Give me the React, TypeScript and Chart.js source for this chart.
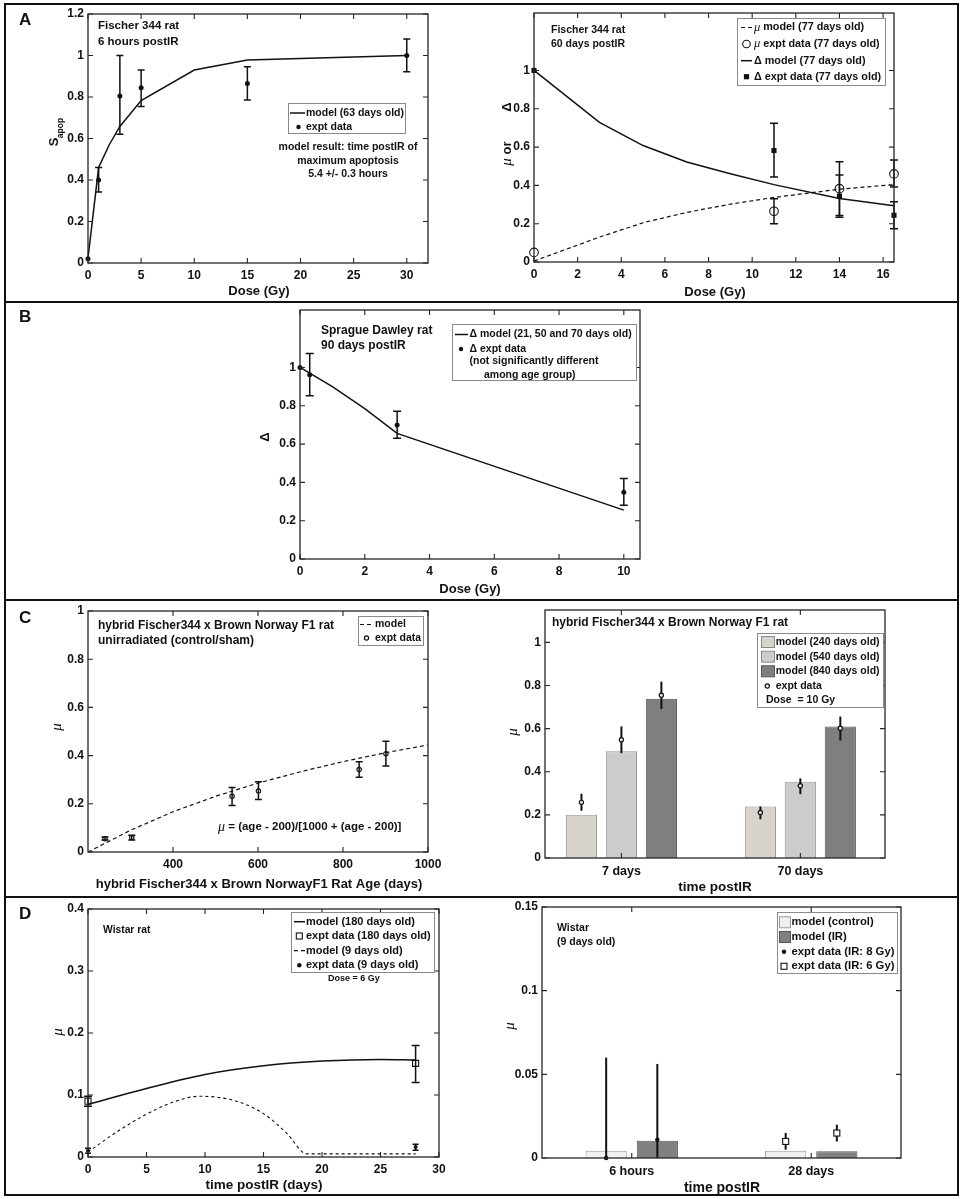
import React, { useEffect, useRef } from 'react';
import { Chart, registerables } from 'chart.js';

Chart.register(...registerables);

/* ======================= DATA ======================= */
// Panel A (left): Fischer 344 rat, 6 hours postIR
const aLeftModelDose = [0, 1, 2, 3, 5, 10, 15, 30];
const aLeftModelSapop = [0.024, 0.46, 0.57, 0.658, 0.783, 0.93, 0.978, 1.0];
const aLeftExptDose = [0, 1, 3, 5, 15, 30];
const aLeftExptSapop = [0.02, 0.4, 0.805, 0.845, 0.865, 1.0];
const aLeftExptLow = [0.02, 0.342, 0.62, 0.754, 0.786, 0.922];
const aLeftExptHigh = [0.02, 0.46, 1.0, 0.93, 0.946, 1.08];
const aLeftXTicks = [0, 5, 10, 15, 20, 25, 30];
const aLeftYTicks = [0, 0.2, 0.4, 0.6, 0.8, 1, 1.2];

// Panel A (right): Fischer 344 rat, 60 days postIR
const aRightModelDose = [0, 3, 5, 7, 9, 11, 14, 16.5];
const aRightMuModel = [0.005, 0.13, 0.205, 0.259, 0.302, 0.337, 0.38, 0.404];
const aRightDeltaModel = [1.0, 0.729, 0.608, 0.522, 0.461, 0.404, 0.332, 0.294];
const aRightExptDose = [0, 11, 14, 16.5];
const aRightMuExpt = [0.05, 0.265, 0.383, 0.46];
const aRightMuLow = [0.05, 0.2, 0.243, 0.392];
const aRightMuHigh = [0.05, 0.33, 0.523, 0.532];
const aRightDeltaExpt = [1.0, 0.582, 0.344, 0.244];
const aRightDeltaLow = [1.0, 0.444, 0.234, 0.174];
const aRightDeltaHigh = [1.0, 0.724, 0.454, 0.314];
const aRightXTicks = [0, 2, 4, 6, 8, 10, 12, 14, 16];
const unitYTicks = [0, 0.2, 0.4, 0.6, 0.8, 1];

// Panel B: Sprague Dawley rat, 90 days postIR
const bModelDose = [0, 0.3, 1, 2, 3, 10];
const bDeltaModel = [1.0, 0.97, 0.9, 0.785, 0.656, 0.255];
const bExptDose = [0, 0.3, 3, 10];
const bDeltaExpt = [1.0, 0.962, 0.7, 0.349];
const bDeltaLow = [1.0, 0.852, 0.63, 0.281];
const bDeltaHigh = [1.0, 1.073, 0.771, 0.42];
const bXTicks = [0, 2, 4, 6, 8, 10];

// Panel C (left): unirradiated hybrid rat vs age
const cLeftModelAge = [200, 300, 400, 500, 600, 700, 800, 900, 1000];
const cLeftModelMu = [0, 0.09, 0.167, 0.231, 0.286, 0.333, 0.375, 0.412, 0.444];
const cLeftExptAge = [240, 303, 539, 601, 838, 901];
const cLeftExptMu = [0.055, 0.06, 0.231, 0.253, 0.342, 0.408];
const cLeftExptLow = [0.05, 0.05, 0.193, 0.218, 0.31, 0.357];
const cLeftExptHigh = [0.062, 0.07, 0.268, 0.292, 0.375, 0.46];
const cLeftXTicks = [400, 600, 800, 1000];

// Panel C (right): bars by time postIR
const cRightCategories = ['7 days', '70 days'];
const cRightModel240 = [0.2, 0.239];
const cRightModel540 = [0.495, 0.353];
const cRightModel840 = [0.739, 0.61];
const cRightExpt240 = [0.258, 0.211];
const cRightExpt240Low = [0.219, 0.18];
const cRightExpt240High = [0.298, 0.239];
const cRightExpt540 = [0.548, 0.335];
const cRightExpt540Low = [0.486, 0.296];
const cRightExpt540High = [0.61, 0.369];
const cRightExpt840 = [0.755, 0.602];
const cRightExpt840Low = [0.691, 0.545];
const cRightExpt840High = [0.818, 0.656];

// Panel D (left): Wistar rat
const dLeftModel180Time = [0, 5, 10, 15, 20, 25, 28];
const dLeftModel180Mu = [0.085, 0.1105, 0.133, 0.147, 0.1547, 0.1574, 0.1563];
const dLeftModel9Time = [0, 2.5, 5, 7.5, 9.5, 12.5, 15, 17, 18.7, 28];
const dLeftModel9Mu = [0.008, 0.041, 0.069, 0.09, 0.098, 0.091, 0.07, 0.038, 0.005, 0.005];
const dLeftExpt180Time = [0, 28];
const dLeftExpt180Mu = [0.09, 0.151];
const dLeftExpt180Low = [0.082, 0.12];
const dLeftExpt180High = [0.098, 0.18];
const dLeftExpt9Time = [0, 28];
const dLeftExpt9Mu = [0.01, 0.016];
const dLeftExpt9Low = [0.006, 0.011];
const dLeftExpt9High = [0.014, 0.0205];
const dLeftXTicks = [0, 5, 10, 15, 20, 25, 30];
const dLeftYTicks = [0, 0.1, 0.2, 0.3, 0.4];

// Panel D (right): Wistar 9 days old, bars
const dRightCategories = ['6 hours', '28 days'];
const dRightModelControl = [0.0044, 0.0044];
const dRightModelIR = [0.0103, 0.004];
const dRightCtrl8Gy = [0, null];
const dRightCtrl8GyLow = [-0.06, null];
const dRightCtrl8GyHigh = [0.06, null];
const dRightCtrl6Gy = [null, 0.0099];
const dRightCtrl6GyLow = [null, 0.005];
const dRightCtrl6GyHigh = [null, 0.015];
const dRightIR8Gy = [0.011, null];
const dRightIR8GyLow = [-0.034, null];
const dRightIR8GyHigh = [0.0562, null];
const dRightIR6Gy = [null, 0.0149];
const dRightIR6GyLow = [null, 0.0099];
const dRightIR6GyHigh = [null, 0.0199];
const dRightYTicks = [0, 0.05, 0.1, 0.15];

/* ======================= STYLE ======================= */
const SANS = "'Liberation Sans', Arial, Helvetica, sans-serif";
const SERIF = "'Liberation Serif', 'DejaVu Serif', serif";
const B = (s: number) => `bold ${s}px ${SANS}`;
const MU = (s: number) => `italic ${s}px ${SERIF}`;
const INK = '#111111';
const ML = 60, MT = 12, MR = 20, MB = 40;

type Part = { t: string; f: string; dy?: number };
type Note = { x: number; y: number; parts: Part[]; align?: 'left' | 'center'; rot?: boolean };
type LegendItem = { kind: string; x: number; x2?: number; y: number; tx: number; parts: Part[]; fill?: string; stroke?: string };
type ErrSpec = { ds: number; lo: (number | null)[]; hi: (number | null)[]; cap: number; w: number };
type BarPt = { ds: number; vals: (number | null)[]; lo: (number | null)[]; hi: (number | null)[]; marker: string };
type Decor = {
  notes: Note[];
  legend?: { x1: number; y1: number; x2: number; y2: number; items: LegendItem[] };
  errors?: ErrSpec[];
  barPts?: BarPt[];
};
type Geom = { l: number; t: number; r: number; b: number };
type AxisSpec = { min: number; max: number; ticks: number[]; labels?: string[]; pad?: number; size?: number };
type Spec = { id: string; g: Geom; type: 'scatter' | 'bar'; datasets: any[]; x: AxisSpec; y: AxisSpec; decor: Decor };

const pts = (xs: number[], ys: number[]) => xs.map((x, i) => ({ x, y: ys[i] }));
const bars = (vals: number[]) => vals.map((v, i) => ({ x: i + 1, y: v }));
const catPositions = (cats: string[]) => cats.map((_, i) => i + 1);

/* ======================= DRAW HELPERS ======================= */
function drawParts(ctx: CanvasRenderingContext2D, parts: Part[], x: number, y: number, align: string = 'left', rot = false) {
  ctx.save();
  ctx.fillStyle = INK;
  ctx.textBaseline = 'middle';
  ctx.textAlign = 'left';
  let total = 0;
  const widths = parts.map((p) => {
    ctx.font = p.f;
    const w = ctx.measureText(p.t).width;
    total += w;
    return w;
  });
  ctx.translate(x, y);
  if (rot) ctx.rotate(-Math.PI / 2);
  let cx = align === 'center' ? -total / 2 : 0;
  parts.forEach((p, i) => {
    ctx.font = p.f;
    ctx.fillText(p.t, cx, p.dy || 0);
    cx += widths[i];
  });
  ctx.restore();
}

function drawMarker(ctx: CanvasRenderingContext2D, kind: string, x: number, y: number, x2?: number, fill?: string, stroke?: string) {
  ctx.save();
  ctx.strokeStyle = INK;
  ctx.fillStyle = INK;
  ctx.lineWidth = 1.1;
  ctx.beginPath();
  switch (kind) {
    case 'line':
      ctx.lineWidth = 1.5;
      ctx.moveTo(x, y);
      ctx.lineTo(x2 ?? x + 10, y);
      ctx.stroke();
      break;
    case 'dash':
      ctx.lineWidth = 1.2;
      ctx.setLineDash([4, 3]);
      ctx.moveTo(x, y);
      ctx.lineTo(x2 ?? x + 10, y);
      ctx.stroke();
      break;
    case 'dot':
      ctx.arc(x, y, 2.2, 0, Math.PI * 2);
      ctx.fill();
      break;
    case 'circle':
      ctx.arc(x, y, 3.8, 0, Math.PI * 2);
      ctx.stroke();
      break;
    case 'smallcircle':
      ctx.lineWidth = 1.2;
      ctx.arc(x, y, 2.1, 0, Math.PI * 2);
      ctx.stroke();
      break;
    case 'square':
      ctx.strokeRect(x - 3, y - 3, 6, 6);
      break;
    case 'fsquare':
      ctx.fillRect(x - 2.6, y - 2.6, 5.2, 5.2);
      break;
    case 'swatch': {
      const l = x, r = x2 ?? x + 12;
      ctx.fillStyle = fill || '#ccc';
      ctx.fillRect(l, y - 5.5, r - l, 11);
      ctx.strokeStyle = stroke || '#888';
      ctx.lineWidth = 1;
      ctx.strokeRect(l + 0.5, y - 5.5, r - l - 1, 11);
      break;
    }
    default:
      break;
  }
  ctx.restore();
}

function makeDecor(s: Spec) {
  const ox = s.g.l - ML;
  const oy = s.g.t - MT;
  const d = s.decor;
  return {
    id: 'decor_' + s.id,
    beforeDatasetsDraw(chart: any) {
      const ctx: CanvasRenderingContext2D = chart.ctx;
      const ya = chart.scales.y;
      (d.errors || []).forEach((e) => {
        const meta = chart.getDatasetMeta(e.ds);
        meta.data.forEach((pt: any, j: number) => {
          const lo = e.lo[j], hi = e.hi[j];
          if (lo == null || hi == null || lo === hi) return;
          const x = pt.x;
          const y1 = ya.getPixelForValue(lo);
          const y2 = ya.getPixelForValue(hi);
          ctx.save();
          ctx.strokeStyle = INK;
          ctx.lineWidth = e.w;
          ctx.beginPath();
          ctx.moveTo(x, y1);
          ctx.lineTo(x, y2);
          if (e.cap) {
            ctx.moveTo(x - e.cap, y1);
            ctx.lineTo(x + e.cap, y1);
            ctx.moveTo(x - e.cap, y2);
            ctx.lineTo(x + e.cap, y2);
          }
          ctx.stroke();
          ctx.restore();
        });
      });
    },
    afterDatasetsDraw(chart: any) {
      const ctx: CanvasRenderingContext2D = chart.ctx;
      const ya = chart.scales.y;
      const xa = chart.scales.x;
      const a = chart.chartArea;
      (d.barPts || []).forEach((bp) => {
        const meta = chart.getDatasetMeta(bp.ds);
        meta.data.forEach((bar: any, j: number) => {
          const v = bp.vals[j];
          if (v == null) return;
          const x = bar.x;
          const lo = bp.lo[j], hi = bp.hi[j];
          ctx.save();
          ctx.beginPath();
          ctx.rect(a.left, a.top, a.right - a.left, a.bottom - a.top);
          ctx.clip();
          if (lo != null && hi != null) {
            ctx.strokeStyle = INK;
            ctx.lineWidth = 2;
            ctx.beginPath();
            ctx.moveTo(x, ya.getPixelForValue(lo));
            ctx.lineTo(x, ya.getPixelForValue(hi));
            ctx.stroke();
          }
          ctx.restore();
          const y = ya.getPixelForValue(v);
          if (bp.marker === 'square') {
            ctx.save();
            ctx.fillStyle = '#fff';
            ctx.fillRect(x - 3, y - 3, 6, 6);
            ctx.restore();
          }
          if (bp.marker === 'smallcircle') {
            ctx.save();
            ctx.fillStyle = 'rgba(255,255,255,0.9)';
            ctx.beginPath();
            ctx.arc(x, y, 2, 0, Math.PI * 2);
            ctx.fill();
            ctx.restore();
          }
          drawMarker(ctx, bp.marker, x, y);
        });
      });
      // axes box with inward ticks on all sides (MATLAB style)
      ctx.save();
      ctx.strokeStyle = '#262626';
      ctx.lineWidth = 1.3;
      ctx.strokeRect(a.left, a.top, a.right - a.left, a.bottom - a.top);
      ctx.lineWidth = 1.1;
      const L = 5;
      ctx.beginPath();
      s.x.ticks.forEach((v) => {
        const px = xa.getPixelForValue(v);
        ctx.moveTo(px, a.bottom);
        ctx.lineTo(px, a.bottom - L);
        ctx.moveTo(px, a.top);
        ctx.lineTo(px, a.top + L);
      });
      s.y.ticks.forEach((v) => {
        const py = ya.getPixelForValue(v);
        ctx.moveTo(a.left, py);
        ctx.lineTo(a.left + L, py);
        ctx.moveTo(a.right, py);
        ctx.lineTo(a.right - L, py);
      });
      ctx.stroke();
      ctx.restore();
    },
    afterDraw(chart: any) {
      const ctx: CanvasRenderingContext2D = chart.ctx;
      if (d.legend) {
        const lg = d.legend;
        ctx.save();
        ctx.fillStyle = '#ffffff';
        ctx.fillRect(lg.x1 - ox, lg.y1 - oy, lg.x2 - lg.x1, lg.y2 - lg.y1);
        ctx.strokeStyle = '#8a8a8a';
        ctx.lineWidth = 1;
        ctx.strokeRect(lg.x1 - ox + 0.5, lg.y1 - oy + 0.5, lg.x2 - lg.x1, lg.y2 - lg.y1);
        ctx.restore();
        lg.items.forEach((it) => {
          if (it.kind !== 'none') {
            drawMarker(ctx, it.kind, it.x - ox, it.y - oy, it.x2 != null ? it.x2 - ox : undefined, it.fill, it.stroke);
          }
          drawParts(ctx, it.parts, it.tx - ox, it.y - oy, 'left', false);
        });
      }
      d.notes.forEach((n) => drawParts(ctx, n.parts, n.x - ox, n.y - oy, n.align || 'left', !!n.rot));
    },
  };
}

function buildConfig(s: Spec): any {
  const fmt = (v: number) => `${v}`;
  return {
    type: s.type,
    data: { datasets: s.datasets },
    options: {
      animation: false,
      responsive: false,
      maintainAspectRatio: false,
      events: [],
      layout: { padding: { left: 0, top: MT, right: MR, bottom: 0 } },
      plugins: { legend: { display: false }, tooltip: { enabled: false }, title: { display: false } },
      scales: {
        x: {
          type: 'linear',
          position: 'bottom',
          min: s.x.min,
          max: s.x.max,
          offset: false,
          grid: { display: false, drawTicks: false },
          border: { display: false },
          ticks: {
            font: { family: SANS, weight: 'bold', size: s.x.size ?? 12 },
            color: INK,
            padding: s.x.pad ?? 5,
            maxRotation: 0,
            autoSkip: false,
            callback: (v: number) => (s.x.labels ? s.x.labels[Math.round(v) - 1] : fmt(v)),
          },
          afterBuildTicks: (sc: any) => {
            sc.ticks = s.x.ticks.map((v) => ({ value: v }));
          },
          afterFit: (sc: any) => {
            sc.height = MB;
          },
        },
        y: {
          type: 'linear',
          position: 'left',
          min: s.y.min,
          max: s.y.max,
          grid: { display: false, drawTicks: false },
          border: { display: false },
          ticks: {
            font: { family: SANS, weight: 'bold', size: 12 },
            color: INK,
            padding: 4,
            autoSkip: false,
            callback: (v: number) => fmt(v),
          },
          afterBuildTicks: (sc: any) => {
            sc.ticks = s.y.ticks.map((v) => ({ value: v }));
          },
          afterFit: (sc: any) => {
            sc.width = ML;
          },
        },
      },
    },
    plugins: [makeDecor(s)],
  };
}

/* ======================= PANEL SPECS ======================= */
const lineDs = (data: any[], dash?: number[], extra: any = {}) => ({
  data,
  showLine: true,
  borderColor: INK,
  borderWidth: dash ? 1.2 : 1.5,
  borderDash: dash || [],
  pointRadius: 0,
  fill: false,
  clip: false,
  ...extra,
});
const markDs = (data: any[], style: string, radius: number, filled: boolean) => ({
  data,
  showLine: false,
  pointStyle: style,
  pointRadius: radius,
  pointBackgroundColor: filled ? INK : 'rgba(0,0,0,0)',
  pointBorderColor: INK,
  pointBorderWidth: filled ? 0 : 1.1,
  clip: false,
});

const specs: Spec[] = [
  {
    id: 'aL',
    g: { l: 88, t: 14, r: 428, b: 263 },
    type: 'scatter',
    datasets: [
      lineDs(pts(aLeftModelDose, aLeftModelSapop)),
      markDs(pts(aLeftExptDose, aLeftExptSapop), 'circle', 2.5, true),
    ],
    x: { min: 0, max: 32, ticks: aLeftXTicks },
    y: { min: 0, max: 1.2, ticks: aLeftYTicks },
    decor: {
      errors: [{ ds: 1, lo: aLeftExptLow, hi: aLeftExptHigh, cap: 3.5, w: 1.5 }],
      notes: [
        { x: 98, y: 26, parts: [{ t: 'Fischer 344 rat', f: B(11.5) }] },
        { x: 98, y: 42, parts: [{ t: '6 hours postIR', f: B(11.5) }] },
        { x: 348, y: 147, align: 'center', parts: [{ t: 'model result: time postIR of', f: B(10.5) }] },
        { x: 348, y: 161, align: 'center', parts: [{ t: 'maximum apoptosis', f: B(10.5) }] },
        { x: 348, y: 174, align: 'center', parts: [{ t: '5.4 +/- 0.3 hours', f: B(10.5) }] },
        { x: 259, y: 291, align: 'center', parts: [{ t: 'Dose (Gy)', f: B(13) }] },
        { x: 54, y: 142, align: 'center', rot: true, parts: [{ t: 'S', f: B(13) }] },
        { x: 60.5, y: 128, align: 'center', rot: true, parts: [{ t: 'apop', f: B(8.5) }] },
      ],
      legend: {
        x1: 288, y1: 103, x2: 405, y2: 133,
        items: [
          { kind: 'line', x: 290, x2: 305, y: 113, tx: 306, parts: [{ t: 'model (63 days old)', f: B(10.5) }] },
          { kind: 'dot', x: 298.5, y: 127, tx: 306, parts: [{ t: 'expt data', f: B(10.5) }] },
        ],
      },
    },
  },
  {
    id: 'aR',
    g: { l: 534, t: 13, r: 894, b: 262 },
    type: 'scatter',
    datasets: [
      lineDs(pts(aRightModelDose, aRightMuModel), [4, 3]),
      markDs(pts(aRightExptDose, aRightMuExpt), 'circle', 4.3, false),
      lineDs(pts(aRightModelDose, aRightDeltaModel)),
      markDs(pts(aRightExptDose, aRightDeltaExpt), 'rect', 3.6, true),
    ],
    x: { min: 0, max: 16.5, ticks: aRightXTicks },
    y: { min: 0, max: 1.3, ticks: unitYTicks },
    decor: {
      errors: [
        { ds: 1, lo: aRightMuLow, hi: aRightMuHigh, cap: 4, w: 1.5 },
        { ds: 3, lo: aRightDeltaLow, hi: aRightDeltaHigh, cap: 4, w: 1.5 },
      ],
      notes: [
        { x: 551, y: 30, parts: [{ t: 'Fischer 344 rat', f: B(10.5) }] },
        { x: 551, y: 44, parts: [{ t: '60 days postIR', f: B(10.5) }] },
        { x: 715, y: 292, align: 'center', parts: [{ t: 'Dose (Gy)', f: B(13) }] },
        { x: 507, y: 162, align: 'center', rot: true, parts: [{ t: 'μ', f: MU(15) }] },
        { x: 507, y: 148, align: 'center', rot: true, parts: [{ t: 'or', f: B(13) }] },
        { x: 507, y: 107, align: 'center', rot: true, parts: [{ t: 'Δ', f: B(13) }] },
      ],
      legend: {
        x1: 737, y1: 18, x2: 885, y2: 85,
        items: [
          { kind: 'dash', x: 741, x2: 752, y: 27.5, tx: 754, parts: [{ t: 'μ', f: MU(12.5) }, { t: ' model (77 days old)', f: B(10.8) }] },
          { kind: 'circle', x: 746.5, y: 44, tx: 754, parts: [{ t: 'μ', f: MU(12.5) }, { t: ' expt data (77 days old)', f: B(10.8) }] },
          { kind: 'line', x: 741, x2: 752, y: 60.7, tx: 754, parts: [{ t: 'Δ model (77 days old)', f: B(10.8) }] },
          { kind: 'fsquare', x: 746.5, y: 76.7, tx: 754, parts: [{ t: 'Δ expt data (77 days old)', f: B(10.8) }] },
        ],
      },
    },
  },
  {
    id: 'b',
    g: { l: 300, t: 310, r: 640, b: 559 },
    type: 'scatter',
    datasets: [
      lineDs(pts(bModelDose, bDeltaModel)),
      markDs(pts(bExptDose, bDeltaExpt), 'circle', 2.5, true),
    ],
    x: { min: 0, max: 10.5, ticks: bXTicks },
    y: { min: 0, max: 1.3, ticks: unitYTicks },
    decor: {
      errors: [{ ds: 1, lo: bDeltaLow, hi: bDeltaHigh, cap: 4, w: 1.5 }],
      notes: [
        { x: 321, y: 331, parts: [{ t: 'Sprague Dawley rat', f: B(12) }] },
        { x: 321, y: 346, parts: [{ t: '90 days postIR', f: B(12) }] },
        { x: 470, y: 589, align: 'center', parts: [{ t: 'Dose (Gy)', f: B(13) }] },
        { x: 265, y: 437, align: 'center', rot: true, parts: [{ t: 'Δ', f: B(13) }] },
      ],
      legend: {
        x1: 452, y1: 324, x2: 636, y2: 380,
        items: [
          { kind: 'line', x: 455, x2: 468, y: 334.5, tx: 469.5, parts: [{ t: 'Δ model (21, 50 and 70 days old)', f: B(10.5) }] },
          { kind: 'dot', x: 461, y: 349, tx: 469.5, parts: [{ t: 'Δ expt data', f: B(10.5) }] },
          { kind: 'none', x: 0, y: 361.5, tx: 469.5, parts: [{ t: '(not significantly different', f: B(10.5) }] },
          { kind: 'none', x: 0, y: 375, tx: 484, parts: [{ t: 'among age group)', f: B(10.5) }] },
        ],
      },
    },
  },
  {
    id: 'cL',
    g: { l: 88, t: 611, r: 428, b: 852 },
    type: 'scatter',
    datasets: [
      lineDs(pts(cLeftModelAge, cLeftModelMu), [4, 3]),
      markDs(pts(cLeftExptAge, cLeftExptMu), 'circle', 2.2, false),
    ],
    x: { min: 200, max: 1000, ticks: cLeftXTicks },
    y: { min: 0, max: 1, ticks: unitYTicks },
    decor: {
      errors: [{ ds: 1, lo: cLeftExptLow, hi: cLeftExptHigh, cap: 3.5, w: 1.5 }],
      notes: [
        { x: 98, y: 626, parts: [{ t: 'hybrid Fischer344 x Brown Norway F1 rat', f: B(12) }] },
        { x: 98, y: 641, parts: [{ t: 'unirradiated (control/sham)', f: B(12) }] },
        { x: 218, y: 827, parts: [{ t: 'μ', f: MU(14) }, { t: ' = (age - 200)/[1000 + (age - 200)]', f: B(11.5) }] },
        { x: 259, y: 884, align: 'center', parts: [{ t: 'hybrid Fischer344 x Brown NorwayF1 Rat Age (days)', f: B(13) }] },
        { x: 57, y: 727, align: 'center', rot: true, parts: [{ t: 'μ', f: MU(15) }] },
      ],
      legend: {
        x1: 358, y1: 616, x2: 423, y2: 645,
        items: [
          { kind: 'dash', x: 360, x2: 371, y: 624.5, tx: 375, parts: [{ t: 'model', f: B(10.5) }] },
          { kind: 'smallcircle', x: 366.5, y: 638, tx: 375, parts: [{ t: 'expt data', f: B(10.5) }] },
        ],
      },
    },
  },
  {
    id: 'cR',
    g: { l: 545, t: 610, r: 885, b: 858 },
    type: 'bar',
    datasets: [
      { data: bars(cRightModel240), backgroundColor: '#d8d3cb', borderColor: '#9a9a9a', borderWidth: 1, categoryPercentage: 0.67, barPercentage: 0.78 },
      { data: bars(cRightModel540), backgroundColor: '#cccccc', borderColor: '#9a9a9a', borderWidth: 1, categoryPercentage: 0.67, barPercentage: 0.78 },
      { data: bars(cRightModel840), backgroundColor: '#7f7f7f', borderColor: '#555555', borderWidth: 1, categoryPercentage: 0.67, barPercentage: 0.78 },
    ],
    x: { min: 0.573, max: 2.473, ticks: catPositions(cRightCategories), labels: cRightCategories, pad: 6, size: 12.5 },
    y: { min: 0, max: 1.15, ticks: unitYTicks },
    decor: {
      barPts: [
        { ds: 0, vals: cRightExpt240, lo: cRightExpt240Low, hi: cRightExpt240High, marker: 'smallcircle' },
        { ds: 1, vals: cRightExpt540, lo: cRightExpt540Low, hi: cRightExpt540High, marker: 'smallcircle' },
        { ds: 2, vals: cRightExpt840, lo: cRightExpt840Low, hi: cRightExpt840High, marker: 'smallcircle' },
      ],
      notes: [
        { x: 552, y: 623, parts: [{ t: 'hybrid Fischer344 x Brown Norway F1 rat', f: B(12) }] },
        { x: 715, y: 887, align: 'center', parts: [{ t: 'time postIR', f: B(13.5) }] },
        { x: 513, y: 732, align: 'center', rot: true, parts: [{ t: 'μ', f: MU(15) }] },
      ],
      legend: {
        x1: 757, y1: 633, x2: 883, y2: 707,
        items: [
          { kind: 'swatch', x: 761, x2: 775, y: 642, tx: 775.7, fill: '#d8d3cb', stroke: '#8a8a8a', parts: [{ t: 'model (240 days old)', f: B(10.5) }] },
          { kind: 'swatch', x: 761, x2: 775, y: 656.7, tx: 775.7, fill: '#cccccc', stroke: '#8a8a8a', parts: [{ t: 'model (540 days old)', f: B(10.5) }] },
          { kind: 'swatch', x: 761, x2: 775, y: 671.3, tx: 775.7, fill: '#7f7f7f', stroke: '#555555', parts: [{ t: 'model (840 days old)', f: B(10.5) }] },
          { kind: 'smallcircle', x: 767.3, y: 686, tx: 775.7, parts: [{ t: 'expt data', f: B(10.5) }] },
          { kind: 'none', x: 0, y: 700.3, tx: 766, parts: [{ t: 'Dose  = 10 Gy', f: B(10.5) }] },
        ],
      },
    },
  },
  {
    id: 'dL',
    g: { l: 88, t: 909, r: 439, b: 1157 },
    type: 'scatter',
    datasets: [
      lineDs(pts(dLeftModel180Time, dLeftModel180Mu), undefined, { cubicInterpolationMode: 'monotone' }),
      markDs(pts(dLeftExpt180Time, dLeftExpt180Mu), 'rect', 4.3, false),
      lineDs(pts(dLeftModel9Time, dLeftModel9Mu), [3, 3], { cubicInterpolationMode: 'monotone', borderWidth: 1.1 }),
      markDs(pts(dLeftExpt9Time, dLeftExpt9Mu), 'circle', 2, true),
    ],
    x: { min: 0, max: 30, ticks: dLeftXTicks },
    y: { min: 0, max: 0.4, ticks: dLeftYTicks },
    decor: {
      errors: [
        { ds: 1, lo: dLeftExpt180Low, hi: dLeftExpt180High, cap: 4, w: 1.5 },
        { ds: 3, lo: dLeftExpt9Low, hi: dLeftExpt9High, cap: 3, w: 1.5 },
      ],
      notes: [
        { x: 103, y: 930, parts: [{ t: 'Wistar rat', f: B(10.3) }] },
        { x: 328, y: 979, parts: [{ t: 'Dose = 6 Gy', f: B(9) }] },
        { x: 264, y: 1185, align: 'center', parts: [{ t: 'time postIR (days)', f: B(13.5) }] },
        { x: 58, y: 1032, align: 'center', rot: true, parts: [{ t: 'μ', f: MU(15) }] },
      ],
      legend: {
        x1: 291, y1: 912, x2: 434, y2: 972,
        items: [
          { kind: 'line', x: 294, x2: 305, y: 921.7, tx: 306, parts: [{ t: 'model (180 days old)', f: B(11) }] },
          { kind: 'square', x: 299.3, y: 936, tx: 306, parts: [{ t: 'expt data (180 days old)', f: B(11) }] },
          { kind: 'dash', x: 294, x2: 305, y: 950.7, tx: 306, parts: [{ t: 'model (9 days old)', f: B(11) }] },
          { kind: 'dot', x: 299.3, y: 965.3, tx: 306, parts: [{ t: 'expt data (9 days old)', f: B(11) }] },
        ],
      },
    },
  },
  {
    id: 'dR',
    g: { l: 542, t: 907, r: 901, b: 1158 },
    type: 'bar',
    datasets: [
      { data: bars(dRightModelControl), backgroundColor: '#f0f0f0', borderColor: '#9a9a9a', borderWidth: 1, categoryPercentage: 0.57, barPercentage: 0.805 },
      { data: bars(dRightModelIR), backgroundColor: '#808080', borderColor: '#555555', borderWidth: 1, categoryPercentage: 0.57, barPercentage: 0.805 },
    ],
    x: { min: 0.5, max: 2.5, ticks: catPositions(dRightCategories), labels: dRightCategories, pad: 6, size: 12.5 },
    y: { min: 0, max: 0.15, ticks: dRightYTicks },
    decor: {
      barPts: [
        { ds: 0, vals: dRightCtrl8Gy, lo: dRightCtrl8GyLow, hi: dRightCtrl8GyHigh, marker: 'dot' },
        { ds: 0, vals: dRightCtrl6Gy, lo: dRightCtrl6GyLow, hi: dRightCtrl6GyHigh, marker: 'square' },
        { ds: 1, vals: dRightIR8Gy, lo: dRightIR8GyLow, hi: dRightIR8GyHigh, marker: 'dot' },
        { ds: 1, vals: dRightIR6Gy, lo: dRightIR6GyLow, hi: dRightIR6GyHigh, marker: 'square' },
      ],
      notes: [
        { x: 557, y: 928, parts: [{ t: 'Wistar', f: B(10.5) }] },
        { x: 557, y: 942, parts: [{ t: '(9 days old)', f: B(10.5) }] },
        { x: 722, y: 1188, align: 'center', parts: [{ t: 'time postIR', f: B(14) }] },
        { x: 510, y: 1026, align: 'center', rot: true, parts: [{ t: 'μ', f: MU(15) }] },
      ],
      legend: {
        x1: 777, y1: 912, x2: 897, y2: 973,
        items: [
          { kind: 'swatch', x: 779, x2: 791, y: 922.3, tx: 791.5, fill: '#f0f0f0', stroke: '#9a9a9a', parts: [{ t: 'model (control)', f: B(11.3) }] },
          { kind: 'swatch', x: 779, x2: 791, y: 937, tx: 791.5, fill: '#808080', stroke: '#555555', parts: [{ t: 'model (IR)', f: B(11.3) }] },
          { kind: 'dot', x: 784, y: 951.7, tx: 791.5, parts: [{ t: 'expt data (IR: 8 Gy)', f: B(11.3) }] },
          { kind: 'square', x: 784, y: 966.3, tx: 791.5, parts: [{ t: 'expt data (IR: 6 Gy)', f: B(11.3) }] },
        ],
      },
    },
  },
];

/* ======================= COMPONENTS ======================= */
function ChartPanel({ spec }: { spec: Spec }) {
  const ref = useRef<HTMLCanvasElement | null>(null);
  const w = spec.g.r - spec.g.l + ML + MR;
  const h = spec.g.b - spec.g.t + MT + MB;
  useEffect(() => {
    if (!ref.current) return;
    const chart = new Chart(ref.current, buildConfig(spec));
    return () => chart.destroy();
  }, [spec]);
  return (
    <canvas
      ref={ref}
      width={w}
      height={h}
      style={{ position: 'absolute', left: spec.g.l - ML, top: spec.g.t - MT, width: w, height: h }}
    />
  );
}

const panelLetters = [
  { t: 'A', x: 19, y: 11 },
  { t: 'B', x: 19, y: 308 },
  { t: 'C', x: 19, y: 609 },
  { t: 'D', x: 19, y: 905 },
];
const rowSeparators = [301, 599, 896];

export default function App() {
  return (
    <div
      style={{
        position: 'absolute',
        left: 0,
        top: 0,
        width: 963,
        height: 1199,
        background: '#ffffff',
        overflow: 'hidden',
        fontFamily: SANS,
      }}
    >
      {specs.map((s) => (
        <ChartPanel key={s.id} spec={s} />
      ))}
      <div
        style={{
          position: 'absolute',
          left: 4,
          top: 3,
          width: 955,
          height: 1193,
          border: '2px solid #111',
          boxSizing: 'border-box',
          pointerEvents: 'none',
        }}
      />
      {rowSeparators.map((y) => (
        <div key={y} style={{ position: 'absolute', left: 4, top: y, width: 955, height: 2, background: '#111' }} />
      ))}
      {panelLetters.map((p) => (
        <div
          key={p.t}
          style={{
            position: 'absolute',
            left: p.x,
            top: p.y,
            fontFamily: SANS,
            fontWeight: 'bold',
            fontSize: 17,
            lineHeight: '17px',
            color: '#111',
          }}
        >
          {p.t}
        </div>
      ))}
    </div>
  );
}
